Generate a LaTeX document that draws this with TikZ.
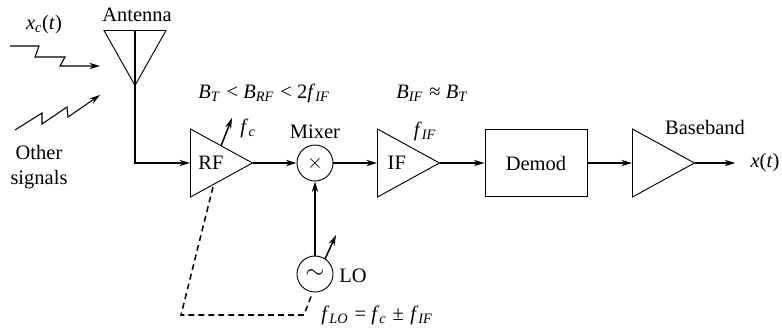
\documentclass[tikz,border=0pt]{standalone}
\usepackage{fontspec}
\setmainfont{Liberation Serif}
\usetikzlibrary{arrows.meta,shapes.geometric}
\def\lblfont{\fontsize{17.5pt}{21pt}\selectfont}
\newcommand{\vsym}[2]{\textit{#1}\textsubscript{\textit{#2}}}
\tikzset{
  lbl/.style={font=\lblfont, inner sep=0pt},
  sig/.style={line width=1.3pt, -{Stealth[length=0.32cm,width=0.19cm]}},
  wave/.style={line width=0.9pt, -{Stealth[length=0.32cm,width=0.19cm]}},
  amp/.style={draw, line width=0.8pt, isosceles triangle, isosceles triangle apex angle=57.5,
    isosceles triangle stretches, minimum width=2.04cm, minimum height=1.86cm,
    inner sep=0pt, font=\lblfont, anchor=lower side},
  circ/.style={draw, line width=0.8pt, circle, minimum size=1.08cm, inner sep=0pt, font=\lblfont},
}
\begin{document}
\begin{tikzpicture}
\useasboundingbox (0,0) rectangle (23.46,-9.84);
% ===================== ANTENNA AND INCOMING SIGNALS =====================
\node[draw, line width=0.8pt, isosceles triangle, isosceles triangle stretches, shape border rotate=270,
  minimum width=1.86cm, minimum height=1.65cm, inner sep=0pt, anchor=lower side] (ant) at (4.05,-0.90) {};
\node[lbl] (antlbl) at (4.11,-0.45) {Antenna};
\node[lbl] (xclbl) at (1.32,-0.75) {\textit{x}\textsubscript{\textit{c}}(\textit{t})};
\node[lbl, align=center] (otherlbl) at (1.17,-5.01) {Other\\signals};

\coordinate (xcA) at (0.30,-1.38);
\coordinate (xcB) at (3.00,-1.98);
\coordinate (otA) at (0.45,-3.90);
\coordinate (otB) at (3.00,-2.85);
\draw[wave] (xcA) -- (1.17,-1.38) -- (1.05,-1.71) -- (1.95,-1.71) -- (1.80,-1.98) -- (xcB);
\draw[wave] (otA) -- (1.26,-3.39) -- (1.26,-3.72) -- (2.01,-3.21) -- (2.04,-3.51) -- (otB);

% ===================== RECEIVER CHAIN =====================
\node[amp] (rf) at (5.70,-4.89) {RF};
\node[circ] (mix) at (9.45,-4.89) {$\times$};
\node[amp] (if) at (11.31,-4.89) {IF};
\node[draw, line width=0.8pt, minimum width=3.06cm, minimum height=2.01cm, inner sep=0pt, font=\lblfont] (demod) at (16.08,-4.89) {Demod};
\node[amp] (bb) at (18.96,-4.89) {};
\node[lbl] (xt) at (22.95,-4.89) {\textit{x}(\textit{t})};
\node[circ] (lo) at (9.45,-8.22) {\fontsize{20pt}{20pt}\selectfont$\sim$};

\draw[line width=1.3pt] (ant.lower side) -- (ant.apex);
\draw[sig] (ant.apex) |- (rf.lower side);
\draw[sig] (rf.apex) -- (mix.west);
\draw[sig] (mix.east) -- (if.lower side);
\draw[sig] (if.apex) -- (demod.west);
\draw[sig] (demod.east) -- (bb.lower side);
\draw[sig, shorten >=0.45cm] (bb.apex) -- (xt.west);
\draw[sig] (lo.north) -- (mix.south);

% tuning arrows
\coordinate (rfA) at (6.63,-4.38);
\coordinate (rfB) at (6.96,-3.54);
\coordinate (loA) at (9.75,-7.77);
\coordinate (loB) at (10.08,-7.05);
\draw[sig] (rfA) -- (rfB);
\draw[sig] (loA) -- (loB);

% ganged tuning
\coordinate (gangA) at (6.39,-5.61);
\coordinate (gangB) at (9.36,-8.82);
\draw[line width=1.3pt, dash pattern=on 5pt off 3.5pt] (gangA) -- (5.43,-9.45) -- (9.12,-9.45) -- (gangB);

% ===================== LABELS =====================
\node[lbl] (bwrf) at (7.92,-2.79) {\vsym{B}{T}\kern1pt{} < \vsym{B}{RF}\kern1pt{} < 2\vsym{f}{IF}};
\node[lbl] (fc) at (7.44,-3.84) {\vsym{f}{c}};
\node[lbl] (mixlbl) at (9.45,-3.96) {Mixer};
\node[lbl] (fif) at (12.75,-3.93) {\vsym{f}{IF}};
\node[lbl] (bwif) at (12.96,-2.79) {\vsym{B}{IF}\kern1pt{} ≈ \vsym{B}{T}};
\node[lbl] (bblbl) at (21.15,-3.81) {Baseband};
\node[lbl] (lolbl) at (10.59,-8.28) {LO};
\node[lbl] (flo) at (11.31,-9.45) {\vsym{f}{LO}\kern1pt{} = \vsym{f}{c}\kern1pt{} ± \kern1pt\vsym{f}{IF}};
\end{tikzpicture}
\end{document}
